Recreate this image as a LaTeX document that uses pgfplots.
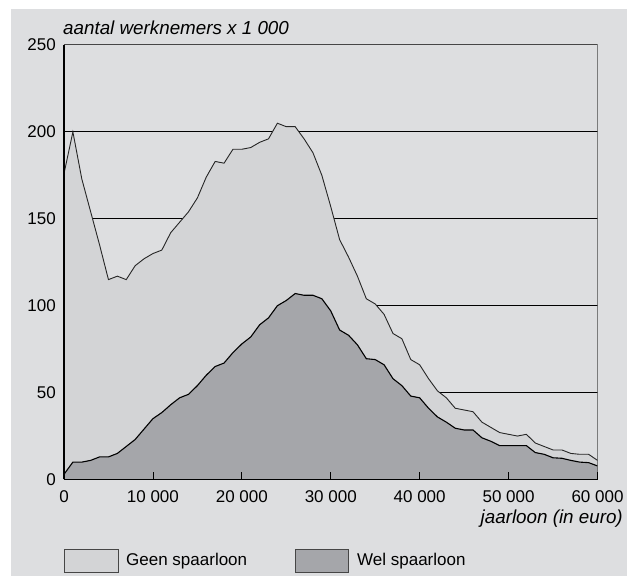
\documentclass[border=0pt]{standalone}
\usepackage{pgfplots}
\pgfplotsset{compat=1.18}
\usepackage{pgfplotstable}
\usepackage{fontspec}
\setmainfont{Liberation Sans}
\definecolor{bgc}{RGB}{221,222,224}
\definecolor{lightc}{RGB}{211,212,214}
\definecolor{darkc}{RGB}{165,166,170}
\definecolor{framec}{RGB}{70,70,70}

\pgfplotstableread{
x top low
0 176 3
1000 200 10
2000 173 10
3000 154 11
4000 135 13
5000 115 13
6000 117 15
7000 115 19
8000 123 23
9000 127 29
10000 130 35
11000 132 38.5
12000 142 43
13000 148 47
14000 154 49
15000 162 54
16000 174 60
17000 183 65
18000 182 67
19000 190 73
20000 190 78
21000 191 82
22000 194 89
23000 196 93
24000 205 100
25000 203 103
26000 203 107
27000 196 106
28000 188 106
29000 175 104
30000 157 97
31000 138 86
32000 128 83
33000 117 77.5
34000 104 69.5
35000 101 69
36000 95 66
37000 84 58
38000 81 54
39000 69 48
40000 66 47
41000 58 41
42000 51 36
43000 47 33
44000 41 29.5
45000 40 28.5
46000 39 28.5
47000 33 24
48000 30 22
49000 27 19.5
50000 26 19.5
51000 25 19.5
52000 26 19.5
53000 21 15.5
54000 19 14.5
55000 17 12.5
56000 17 12.2
57000 15 11
58000 14.5 10
59000 14.5 9.7
60000 11 7.8
}\data

\begin{document}
\begin{tikzpicture}[x=1pt,y=1pt]
\fill[white] (0,0) rectangle (627,576);
\fill[bgc] (11,0) rectangle (627,567);
\begin{axis}[
  at={(64pt,96.5pt)}, anchor=south west,
  scale only axis, width=533.5pt, height=434.5pt,
  xmin=0, xmax=60000, ymin=0, ymax=250,
  axis on top,
  axis x line*=bottom, axis y line*=left,
  axis line style={-, black, line width=1.1pt},
  xtick={0,10000,...,60000},
  xticklabels={0,10 000,20 000,30 000,40 000,50 000,60 000},
  ytick={0,50,...,250},
  ytick style={draw=none},
  xtick style={black, line width=0.8pt},
  tick align=inside, major tick length=7pt,
  ticklabel style={font=\fontsize{17}{17}\selectfont},
  /pgf/number format/assume math mode=true,
  yticklabel style={anchor=east, inner sep=0pt, xshift=-8pt},
  xticklabel style={anchor=north, inner sep=0pt, yshift=-10.5pt},
  scaled x ticks=false,
]
\draw[black, line width=0.8pt] (axis cs:0,50) -- (axis cs:60000,50);
\draw[black, line width=0.8pt] (axis cs:0,100) -- (axis cs:60000,100);
\draw[black, line width=0.8pt] (axis cs:0,150) -- (axis cs:60000,150);
\draw[black, line width=0.8pt] (axis cs:0,200) -- (axis cs:60000,200);
\addplot[fill=lightc, draw=none] table[x=x,y=top]{\data} \closedcycle;
\addplot[draw=black!85, line width=0.9pt] table[x=x,y=top]{\data};
\addplot[fill=darkc, draw=none] table[x=x,y=low]{\data} \closedcycle;
\addplot[black, line width=1.1pt] table[x=x,y=low]{\data};
\draw[framec, line width=1pt] (axis cs:0,250) -- (axis cs:60000,250) -- (axis cs:60000,0);
\end{axis}
\node[anchor=base west, inner sep=0pt, font=\fontsize{18.8}{18.8}\selectfont\itshape] at (63,541) {aantal werknemers x 1 000};
\node[anchor=base east, inner sep=0pt, font=\fontsize{18.8}{18.8}\selectfont\itshape] at (623,52) {jaarloon (in euro)};
\draw[framec, fill=lightc, line width=0.8pt] (64,4) rectangle (118,27);
\node[anchor=base west, inner sep=0pt, font=\fontsize{17}{17}\selectfont] at (126,10) {Geen spaarloon};
\draw[framec, fill=darkc, line width=0.8pt] (295,4) rectangle (348,27);
\node[anchor=base west, inner sep=0pt, font=\fontsize{17}{17}\selectfont] at (357,10) {Wel spaarloon};
\path[use as bounding box] (0,0) rectangle (627,576);
\end{tikzpicture}
\end{document}
